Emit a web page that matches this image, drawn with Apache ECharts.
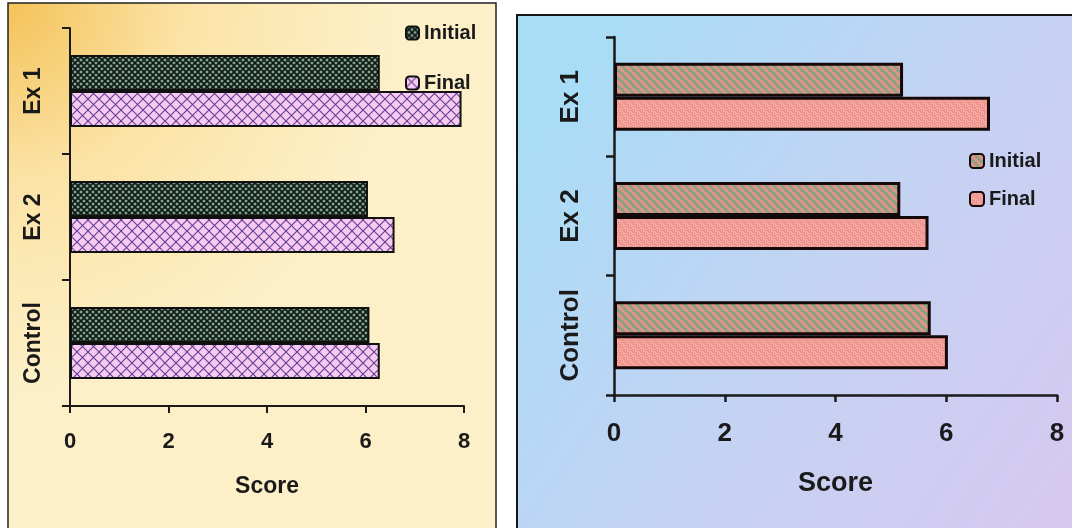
<!DOCTYPE html>
<html>
<head>
<meta charset="utf-8">
<script src="https://cdn.jsdelivr.net/npm/echarts@6/dist/echarts.min.js"></script>
<style>
  html, body { margin: 0; padding: 0; background: #ffffff; }
  #chart { width: 1072px; height: 528px; }
</style>
</head>
<body>
<div id="chart"></div>
<script>
// Groups, bottom to top on the category axis
const categories = ['Control', 'Ex 2', 'Ex 1'];
const scoreTicks = [0, 2, 4, 6, 8];

// Left panel scores
const leftInitial = [6.08, 6.05, 6.29];
const leftFinal = [6.29, 6.59, 7.95];

// Right panel scores
const rightInitial = [5.72, 5.17, 5.22];
const rightFinal = [6.03, 5.68, 6.79];

// ---- hatch fills drawn on small repeating canvases ----
function tile(size, draw) {
  const c = document.createElement('canvas');
  c.width = size; c.height = size;
  const g = c.getContext('2d');
  draw(g, size);
  return c;
}
function diagonals(g, s, dir) {
  for (const x0 of [-s, 0, s]) {
    g.beginPath();
    if (dir === 'down') { g.moveTo(x0, 0); g.lineTo(x0 + s, s); }
    else { g.moveTo(x0 + s, 0); g.lineTo(x0, s); }
    g.stroke();
  }
}
const fineCheck = tile(6, (g, s) => {
  g.fillStyle = '#86a494'; g.fillRect(0, 0, s, s);
  g.strokeStyle = '#0e1a14'; g.lineWidth = 1.6;
  diagonals(g, s, 'down'); diagonals(g, s, 'up');
});
const pinkCross = tile(11, (g, s) => {
  g.fillStyle = '#f8caf2'; g.fillRect(0, 0, s, s);
  g.strokeStyle = '#5e3e92'; g.lineWidth = 1.1;
  diagonals(g, s, 'down'); diagonals(g, s, 'up');
});
const stripes = tile(8, (g, s) => {
  g.fillStyle = '#86a483'; g.fillRect(0, 0, s, s);
  g.strokeStyle = '#ea9088'; g.lineWidth = 2.9;
  diagonals(g, s, 'down');
});
const weave = tile(8, (g, s) => {
  g.fillStyle = '#f0908a'; g.fillRect(0, 0, s, s);
  g.strokeStyle = '#f5aea6'; g.lineWidth = 1;
  g.beginPath();
  g.moveTo(0, 1.5); g.lineTo(3.5, 1.5); g.moveTo(0, 3.5); g.lineTo(3.5, 3.5);
  g.moveTo(4, 5.5); g.lineTo(7.5, 5.5); g.moveTo(4, 7.5); g.lineTo(7.5, 7.5);
  g.moveTo(5.5, 0); g.lineTo(5.5, 3.5); g.moveTo(7.5, 0); g.lineTo(7.5, 3.5);
  g.moveTo(1.5, 4); g.lineTo(1.5, 7.5); g.moveTo(3.5, 4); g.lineTo(3.5, 7.5);
  g.stroke();
});
const pat = c => ({ image: c, repeat: 'repeat' });

const ink = '#1a1a1a';
const font = 'Liberation Sans, Arial, sans-serif';

function valueAxis(grid, size, nameSize, labelMargin, nameGap, lineW) {
  return {
    type: 'value', gridIndex: grid, min: 0, max: 8, interval: 2,
    name: 'Score', nameLocation: 'middle', nameGap: nameGap,
    nameTextStyle: { color: ink, fontFamily: font, fontWeight: 'bold', fontSize: nameSize },
    axisLine: { show: true, lineStyle: { color: ink, width: lineW } },
    axisTick: { show: true, length: 7, lineStyle: { color: ink, width: lineW } },
    axisLabel: {
      color: ink, fontFamily: font, fontWeight: 'bold', fontSize: size, margin: labelMargin,
      formatter: v => scoreTicks.includes(v) ? String(v) : ''
    },
    splitLine: { show: false }
  };
}
function categoryAxis(grid, size, labelMargin, lineW) {
  return {
    type: 'category', gridIndex: grid, data: categories,
    axisLine: { show: true, onZero: false, lineStyle: { color: ink, width: lineW } },
    axisTick: { show: true, length: 8, interval: 0, lineStyle: { color: ink, width: lineW } },
    axisLabel: {
      rotate: 90, interval: 0, hideOverlap: false, color: ink, fontFamily: font,
      fontWeight: 'bold', fontSize: size, margin: labelMargin
    }
  };
}
function bars(name, axisIdx, values, fill, border, bw) {
  return {
    type: 'bar', name: name, xAxisIndex: axisIdx, yAxisIndex: axisIdx,
    data: values, barCategoryGap: '43%', barGap: '0%',
    itemStyle: { color: pat(fill), borderColor: border, borderWidth: bw },
    emphasis: { disabled: true }, silent: true
  };
}

const chart = echarts.init(document.getElementById('chart'), null, { renderer: 'canvas' });
chart.setOption({
  backgroundColor: '#ffffff',
  animation: false,
  graphic: [
    {
      type: 'rect', z: -10, silent: true,
      shape: { x: 8, y: 3, width: 488, height: 600 },
      style: {
        fill: {
          type: 'radial', x: 0, y: 0, r: 0.8,
          colorStops: [
            { offset: 0, color: '#f4c258' },
            { offset: 0.45, color: '#fbe3a6' },
            { offset: 1, color: '#fdf0c8' }
          ]
        },
        stroke: '#222222', lineWidth: 1.5
      }
    },
    {
      type: 'rect', z: -10, silent: true,
      shape: { x: 517, y: 15, width: 600, height: 600 },
      style: {
        fill: {
          type: 'linear', x: 0, y: 0.2, x2: 1, y2: 0.9,
          colorStops: [
            { offset: 0, color: '#a8ddf6' },
            { offset: 0.5, color: '#c6d2f3' },
            { offset: 1, color: '#dac6ef' }
          ]
        },
        stroke: '#151515', lineWidth: 2
      }
    }
  ],
  grid: [
    { left: 70, right: 608, top: 28, bottom: 122 },
    { left: 614, right: 15, top: 37, bottom: 133 }
  ],
  legend: [
    {
      left: 400, top: 18, orient: 'vertical', itemWidth: 13, itemHeight: 13, itemGap: 30,
      data: ['Initial', 'Final'], selectedMode: false,
      textStyle: { color: ink, fontFamily: font, fontWeight: 'bold', fontSize: 20, lineHeight: 20 }
    },
    {
      left: 964, top: 146, orient: 'vertical', itemWidth: 14, itemHeight: 14, itemGap: 18,
      data: ['Initial ', 'Final '], selectedMode: false,
      formatter: n => n.trim(),
      textStyle: { color: ink, fontFamily: font, fontWeight: 'bold', fontSize: 20, lineHeight: 20 }
    }
  ],
  xAxis: [
    valueAxis(0, 22, 23, 25, 69, 2),
    valueAxis(1, 26, 27, 26, 75, 2.5)
  ],
  yAxis: [
    categoryAxis(0, 23, 25, 2),
    categoryAxis(1, 26, 30, 2.5)
  ],
  series: [
    bars('Initial', 0, leftInitial, fineCheck, '#111111', 2),
    bars('Final', 0, leftFinal, pinkCross, '#111111', 2),
    bars('Initial ', 1, rightInitial, stripes, '#140808', 3),
    bars('Final ', 1, rightFinal, weave, '#140808', 3)
  ]
});
</script>
</body>
</html>
